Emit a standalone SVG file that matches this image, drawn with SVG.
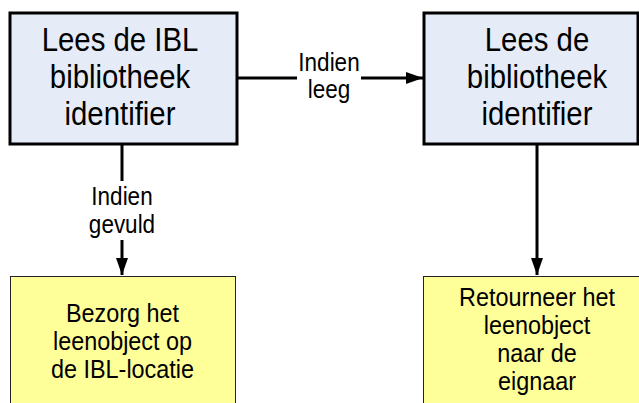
<svg xmlns="http://www.w3.org/2000/svg" width="639" height="403" viewBox="0 0 639 403">
<style>
.blue{fill:#E6ECF7;stroke:#000;stroke-width:3}
.yellow{fill:#FFFF99;stroke:#222;stroke-width:1}
text{font-family:"Liberation Sans",Arial,sans-serif;fill:#000;text-anchor:middle}
.big{font-size:33px}
.mid{font-size:26px}
.lbl{font-size:25px}
.conn{stroke:#000;stroke-width:3;fill:none}
</style>
<defs>
<marker id="arr" viewBox="0 0 17 12" refX="17" refY="6" markerWidth="17" markerHeight="12" markerUnits="userSpaceOnUse" orient="auto">
<path d="M0,0 L17,6 L0,12 Z" fill="#000"/>
</marker>
</defs>
<rect width="639" height="403" fill="#fff"/>
<g id="connectors">
<line class="conn" x1="237" y1="78" x2="297" y2="78"/>
<line class="conn" x1="361" y1="78" x2="423" y2="78" marker-end="url(#arr)"/>
<line class="conn" x1="122" y1="144" x2="122" y2="181"/>
<line class="conn" x1="122" y1="240" x2="122" y2="275" marker-end="url(#arr)"/>
<line class="conn" x1="537" y1="144" x2="537" y2="275" marker-end="url(#arr)"/>
<g transform="translate(329,0) scale(0.9,1)">
<text class="lbl" x="0" y="71">Indien</text>
<text class="lbl" x="0" y="98">leeg</text>
</g>
<g transform="translate(122,0) scale(0.9,1)">
<text class="lbl" x="0" y="205">Indien</text>
<text class="lbl" x="0" y="233">gevuld</text>
</g>
</g>
<g id="node-ibl">
<rect class="blue" x="10" y="13" width="227" height="131"/>
<g transform="translate(120,0) scale(0.89,1)">
<text class="big" x="0" y="51">Lees de IBL</text>
<text class="big" x="0" y="88">bibliotheek</text>
<text class="big" x="0" y="125">identifier</text>
</g>
</g>
<g id="node-bib">
<rect class="blue" x="424" y="13" width="214" height="131"/>
<g transform="translate(537,0) scale(0.89,1)">
<text class="big" x="0" y="51">Lees de</text>
<text class="big" x="0" y="88">bibliotheek</text>
<text class="big" x="0" y="125">identifier</text>
</g>
</g>
<g id="node-bezorg">
<rect class="yellow" x="10.5" y="276.5" width="225" height="140"/>
<g transform="translate(122.5,0) scale(0.9,1)">
<text class="mid" x="0" y="322">Bezorg het</text>
<text class="mid" x="0" y="350">leenobject op</text>
<text class="mid" x="0" y="378">de IBL-locatie</text>
</g>
</g>
<g id="node-retour">
<rect class="yellow" x="423.5" y="276.5" width="230" height="140"/>
<g transform="translate(537,0) scale(0.9,1)">
<text class="mid" x="0" y="306">Retourneer het</text>
<text class="mid" x="0" y="334">leenobject</text>
<text class="mid" x="0" y="362">naar de</text>
<text class="mid" x="0" y="390">eignaar</text>
</g>
</g>
</svg>
